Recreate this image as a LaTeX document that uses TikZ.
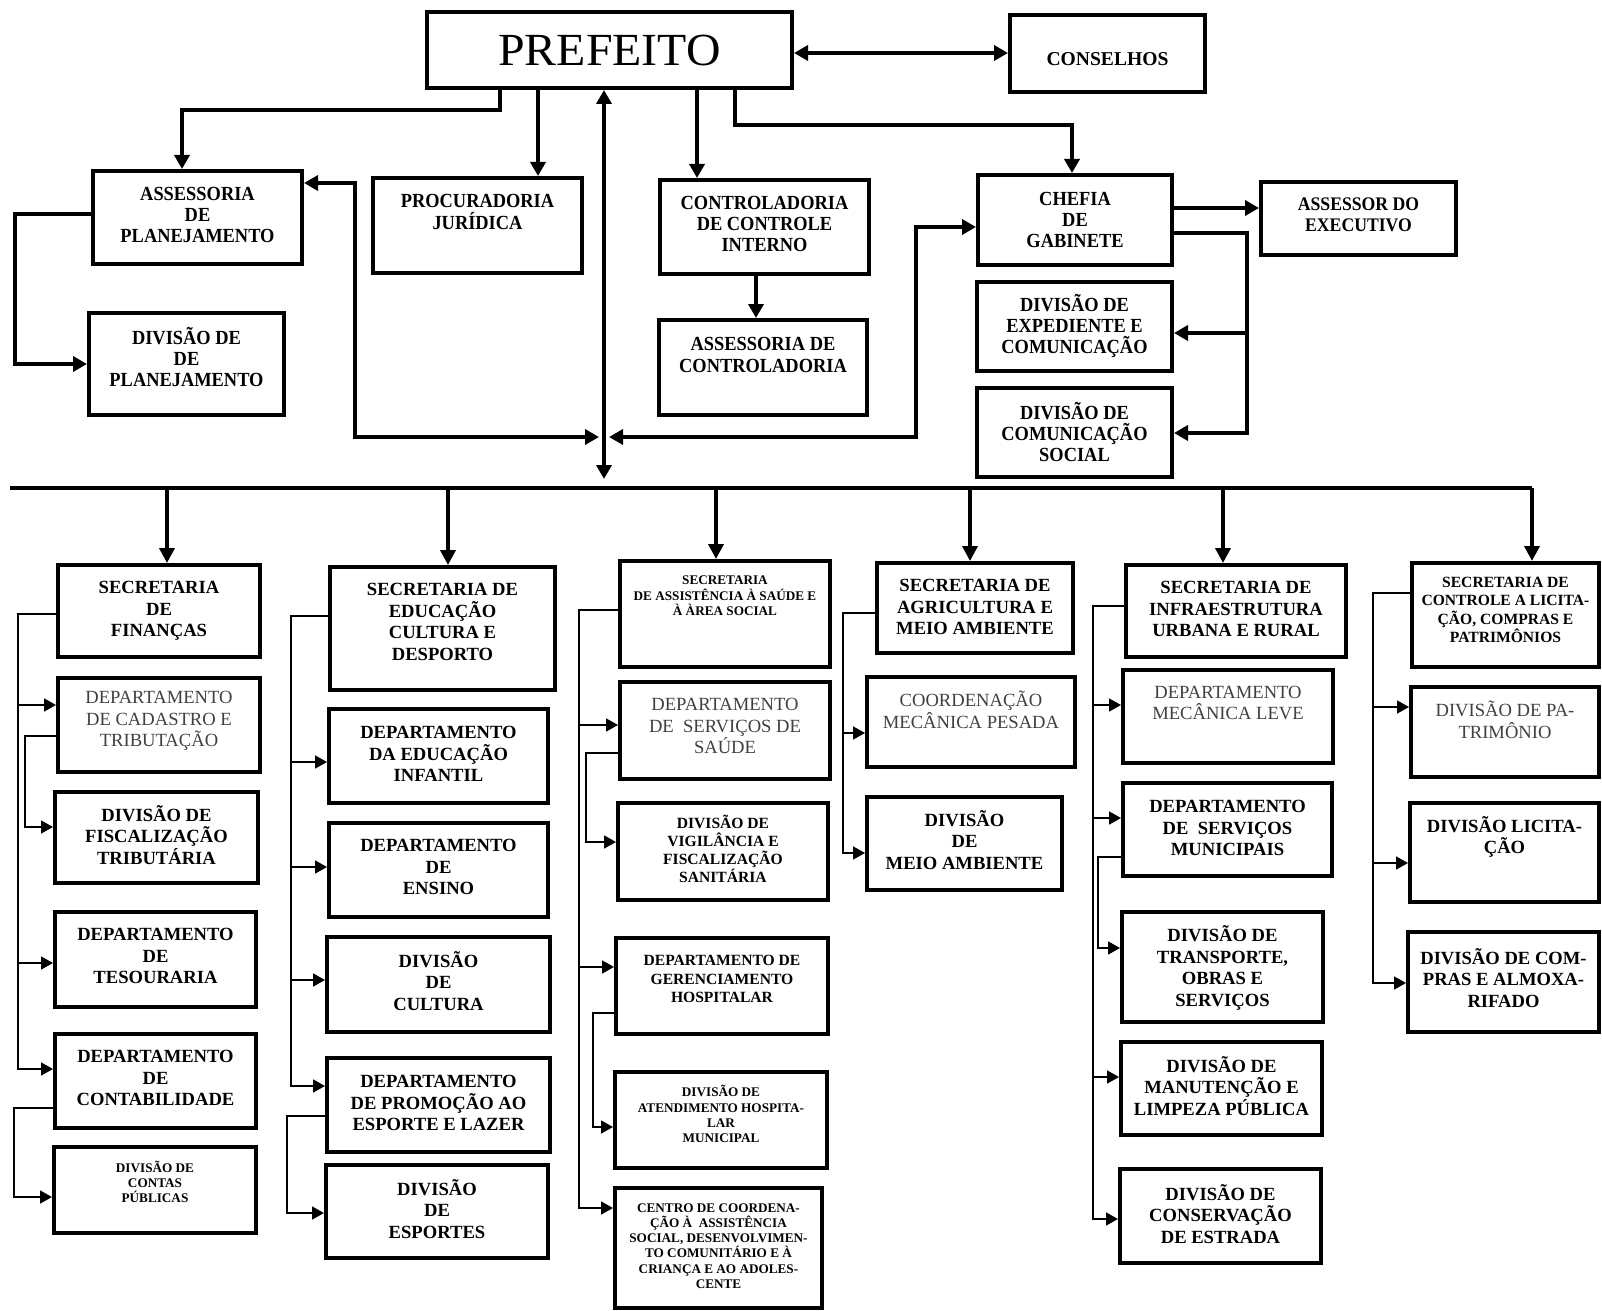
\documentclass[tikz,border=0pt]{standalone}
\usepackage{fontspec}
\setmainfont{Liberation Serif}
\newfontfamily\topfont[FakeStretch=0.92]{Liberation Serif}
\newfontfamily\preffont[FakeStretch=1.04]{Liberation Serif}
\usetikzlibrary{arrows.meta}
\newcommand\obox[8]{%
  \pgfmathsetmacro\bw{(#4-#2)*0.5}%
  \pgfmathsetmacro\bh{(#5-#3)*0.5}%
  \node[bx, minimum width=\bw pt, minimum height=\bh pt] (#1) at ({(#2+#4)/2},{(#3+#5)/2}) {};
  \node[#6] (#1-t) at ({(#2+#4)/2},#7) {#8};
}
\begin{document}
\begin{tikzpicture}[x=0.5pt,y=-0.5pt,
  bx/.style={draw, line width=2pt, inner sep=0pt, rectangle},
  tx/.style={align=center, inner sep=0pt, font=\bfseries\fontsize{9.3}{10.7}\selectfont},
  lt/.style={align=center, inner sep=0pt, text=black!75, font=\fontsize{9.3}{10.7}\selectfont},
  sm/.style={tx, font=\bfseries\fontsize{6.6}{7.6}\selectfont},
  md/.style={tx, font=\bfseries\fontsize{7.8}{9.1}\selectfont},
  tp/.style={align=center, inner sep=0pt, font=\topfont\bfseries\fontsize{10}{10.7}\selectfont},
  pf/.style={inner sep=0pt, font=\preffont\fontsize{23}{23}\selectfont},
  tc/.style={line width=1.8pt, -{Triangle[length=7pt,width=7.5pt]}},
  tcd/.style={line width=1.8pt, {Triangle[length=7pt,width=7.5pt]}-{Triangle[length=7pt,width=7.5pt]}},
  busl/.style={line width=1.8pt},
  bd/.style={line width=1.8pt, -{Triangle[length=7.5pt,width=7.5pt]}},
  sc/.style={line width=0.85pt, -{Triangle[length=6pt,width=6.5pt]}}
]
\useasboundingbox (0,0) rectangle (1602,1311);

% ---------- top level ----------
\obox{pref}{427}{12}{792}{88}{pf}{50}{PREFEITO}
\obox{cons}{1010}{15}{1205}{92}{tp, font=\bfseries\fontsize{9.8}{10.6}\selectfont}{59}{CONSELHOS}
\obox{aplan}{93}{171}{302}{264}{tp}{215}{ASSESSORIA\\DE\\PLANEJAMENTO}
\obox{proc}{373}{178}{582}{273}{tp}{212}{PROCURADORIA\\JURÍDICA}
\obox{ctrl}{660}{180}{869}{274}{tp}{224}{CONTROLADORIA\\DE CONTROLE\\INTERNO}
\obox{chef}{978}{175}{1172}{265}{tp}{220}{CHEFIA\\DE\\GABINETE}
\obox{asex}{1261}{182}{1456}{255}{tp, font=\topfont\bfseries\fontsize{9.6}{10.6}\selectfont}{215}{ASSESSOR DO\\EXECUTIVO}
\obox{dplan}{89}{313}{284}{415}{tp}{357}{DIVISÃO DE\\DE\\PLANEJAMENTO}
\obox{actrl}{659}{320}{867}{415}{tp}{355}{ASSESSORIA DE\\CONTROLADORIA}
\obox{dexp}{977}{282}{1172}{371}{tp}{326}{DIVISÃO DE\\EXPEDIENTE E\\COMUNICAÇÃO}
\obox{dcom}{977}{388}{1172}{477}{tp}{432}{DIVISÃO DE\\COMUNICAÇÃO\\SOCIAL}

\coordinate (jl) at (599,437);
\coordinate (jr) at (609,437);
\coordinate (vb) at (604,479);

\draw[tc] (pref.south -| 500,0) -- (500,110) -| (aplan.north -| 182,0);
\draw[tc] (pref.south -| 538,0) -- (proc.north -| 538,0);
\draw[tcd] (pref.south -| 604,0) -- (vb);
\draw[tc] (pref.south -| 697,0) -- (ctrl.north -| 697,0);
\draw[tc] (pref.south -| 735,0) -- (735,125) -| (chef.north -| 1072,0);
\draw[tcd] (pref.east |- 0,53) -- (cons.west |- 0,53);
\draw[tcd] (aplan.east |- 0,183) -| (355,437) -- (jl);
\draw[tcd] (chef.west |- 0,227) -| (916,437) -- (jr);
\draw[tc] (aplan.west |- 0,214) -| (15,364) -- (dplan.west |- 0,364);
\draw[tc] (ctrl.south -| 756,0) -- (actrl.north -| 756,0);
\draw[tc] (chef.east |- 0,208) -- (asex.west |- 0,208);
\draw[tc] (chef.east |- 0,233) -| (1247,333) -- (dexp.east |- 0,333);
\draw[tc] (chef.east |- 0,233) -| (1247,433) -- (dcom.east |- 0,433);

% ---------- secretarias ----------
\obox{fin}{58}{565}{260}{657}{tx}{611}{SECRETARIA\\DE\\FINANÇAS}
\obox{cad}{58}{678}{260}{772}{lt}{721}{DEPARTAMENTO\\DE CADASTRO E\\TRIBUTAÇÃO}
\obox{fis}{55}{792}{258}{883}{tx}{835}{DIVISÃO DE\\FISCALIZAÇÃO\\TRIBUTÁRIA}
\obox{tes}{55}{912}{256}{1007}{tx}{956}{DEPARTAMENTO\\DE\\TESOURARIA}
\obox{cont}{55}{1034}{256}{1128}{tx}{1078}{DEPARTAMENTO\\DE\\CONTABILIDADE}
\obox{cpub}{54}{1147}{256}{1233}{sm}{1182}{DIVISÃO DE\\CONTAS\\PÚBLICAS}

\obox{edu}{330}{567}{555}{690}{tx}{622}{SECRETARIA DE\\EDUCAÇÃO\\CULTURA E\\DESPORTO}
\obox{inf}{329}{709}{548}{803}{tx}{754}{DEPARTAMENTO\\DA EDUCAÇÃO\\INFANTIL}
\obox{ens}{329}{823}{548}{917}{tx}{867}{DEPARTAMENTO\\DE\\ENSINO}
\obox{cul}{327}{937}{550}{1032}{tx}{981}{DIVISÃO\\DE\\CULTURA}
\obox{pro}{327}{1058}{550}{1152}{tx}{1103}{DEPARTAMENTO\\DE PROMOÇÃO AO\\ESPORTE E LAZER}
\obox{esp}{326}{1165}{548}{1258}{tx}{1209}{DIVISÃO\\DE\\ESPORTES}

\obox{sas}{620}{561}{830}{667}{sm, font=\bfseries\fontsize{6.6}{7.8}\selectfont}{596}{SECRETARIA\\DE ASSISTÊNCIA À SAÚDE E\\À ÀREA SOCIAL}
\obox{ssa}{620}{682}{830}{779}{lt}{726}{DEPARTAMENTO\\DE~ SERVIÇOS DE\\SAÚDE}
\obox{vig}{618}{803}{828}{900}{md}{849}{DIVISÃO DE\\VIGILÂNCIA E\\FISCALIZAÇÃO\\SANITÁRIA}
\obox{ger}{616}{938}{828}{1034}{md}{979}{DEPARTAMENTO DE\\GERENCIAMENTO\\HOSPITALAR}
\obox{ate}{615}{1072}{827}{1168}{sm}{1114}{DIVISÃO DE\\ATENDIMENTO HOSPITA-\\LAR\\MUNICIPAL}
\obox{cen}{615}{1188}{822}{1308}{sm}{1246}{CENTRO DE COORDENA-\\ÇÃO À~ ASSISTÊNCIA\\SOCIAL, DESENVOLVIMEN-\\TO COMUNITÁRIO E À\\CRIANÇA E AO ADOLES-\\CENTE}

\obox{agr}{877}{563}{1073}{653}{tx}{607}{SECRETARIA DE\\AGRICULTURA E\\MEIO AMBIENTE}
\obox{coo}{867}{677}{1075}{767}{lt}{710}{COORDENAÇÃO\\MECÂNICA PESADA}
\obox{mam}{867}{797}{1062}{890}{tx}{840}{DIVISÃO\\DE\\MEIO AMBIENTE}

\obox{infr}{1126}{565}{1346}{657}{tx}{609}{SECRETARIA DE\\INFRAESTRUTURA\\URBANA E RURAL}
\obox{mec}{1123}{670}{1333}{763}{lt}{703}{DEPARTAMENTO\\MECÂNICA LEVE}
\obox{smu}{1123}{783}{1332}{876}{tx}{828}{DEPARTAMENTO\\DE~ SERVIÇOS\\MUNICIPAIS}
\obox{tra}{1122}{912}{1323}{1022}{tx}{968}{DIVISÃO DE\\TRANSPORTE,\\OBRAS E\\SERVIÇOS}
\obox{man}{1121}{1042}{1322}{1135}{tx}{1086}{DIVISÃO DE\\MANUTENÇÃO E\\LIMPEZA PÚBLICA}
\obox{cve}{1120}{1169}{1321}{1263}{tx}{1214}{DIVISÃO DE\\CONSERVAÇÃO\\DE ESTRADA}

\obox{ctl}{1412}{563}{1599}{667}{md}{610}{SECRETARIA DE\\CONTROLE A LICITA-\\ÇÃO, COMPRAS E\\PATRIMÔNIOS}
\obox{pat}{1411}{687}{1599}{777}{lt}{720}{DIVISÃO DE PA-\\TRIMÔNIO}
\obox{lic}{1410}{803}{1599}{902}{tx}{837}{DIVISÃO LICITA-\\ÇÃO}
\obox{com}{1408}{932}{1599}{1032}{tx}{978}{DIVISÃO DE COM-\\PRAS E ALMOXA-\\RIFADO}

% ---------- bus ----------
\coordinate (busL) at (10,488);
\coordinate (busR) at (1532,488);
\draw[busl] (busL) -- (busR);
\draw[bd] (busL -| 167,0) -- (fin.north -| 167,0);
\draw[bd] (busL -| 448,0) -- (edu.north -| 448,0);
\draw[bd] (busL -| 716,0) -- (sas.north -| 716,0);
\draw[bd] (busL -| 970,0) -- (agr.north -| 970,0);
\draw[bd] (busL -| 1223,0) -- (infr.north -| 1223,0);
\draw[bd] (busR) -- (ctl.north -| busR);

% ---------- column 1 ----------
\draw[sc] (fin.west |- 0,614) -| (18,705) -- (cad.west |- 0,705);
\draw[sc] (fin.west |- 0,614) -| (18,963) -- (tes.west |- 0,963);
\draw[sc] (fin.west |- 0,614) -| (18,1069) -- (cont.west |- 0,1069);
\draw[sc] (cad.west |- 0,736) -| (25,827) -- (fis.west |- 0,827);
\draw[sc] (cont.west |- 0,1108) -| (14,1197) -- (cpub.west |- 0,1197);

% ---------- column 2 ----------
\draw[sc] (edu.west |- 0,616) -| (291,762) -- (inf.west |- 0,762);
\draw[sc] (edu.west |- 0,616) -| (291,867) -- (ens.west |- 0,867);
\draw[sc] (edu.west |- 0,616) -| (291,980) -- (cul.west |- 0,980);
\draw[sc] (edu.west |- 0,616) -| (291,1086) -- (pro.west |- 0,1086);
\draw[sc] (pro.west |- 0,1116) -| (287,1213) -- (esp.west |- 0,1213);

% ---------- column 3 ----------
\draw[sc] (sas.west |- 0,610) -| (579,725) -- (ssa.west |- 0,725);
\draw[sc] (sas.west |- 0,610) -| (579,967) -- (ger.west |- 0,967);
\draw[sc] (sas.west |- 0,610) -| (579,1208) -- (cen.west |- 0,1208);
\draw[sc] (ssa.west |- 0,753) -| (586,842) -- (vig.west |- 0,842);
\draw[sc] (ger.west |- 0,1013) -| (593,1127) -- (ate.west |- 0,1127);

% ---------- column 4 ----------
\draw[sc] (agr.west |- 0,613) -| (843,733) -- (coo.west |- 0,733);
\draw[sc] (agr.west |- 0,613) -| (843,853) -- (mam.west |- 0,853);

% ---------- column 5 ----------
\draw[sc] (infr.west |- 0,606) -| (1093,705) -- (mec.west |- 0,705);
\draw[sc] (infr.west |- 0,606) -| (1093,818) -- (smu.west |- 0,818);
\draw[sc] (infr.west |- 0,606) -| (1093,1077) -- (man.west |- 0,1077);
\draw[sc] (infr.west |- 0,606) -| (1093,1219) -- (cve.west |- 0,1219);
\draw[sc] (smu.west |- 0,857) -| (1098,948) -- (tra.west |- 0,948);

% ---------- column 6 ----------
\draw[sc] (ctl.west |- 0,593) -| (1373,707) -- (pat.west |- 0,707);
\draw[sc] (ctl.west |- 0,593) -| (1373,863) -- (lic.west |- 0,863);
\draw[sc] (ctl.west |- 0,593) -| (1373,983) -- (com.west |- 0,983);
\end{tikzpicture}
\end{document}
